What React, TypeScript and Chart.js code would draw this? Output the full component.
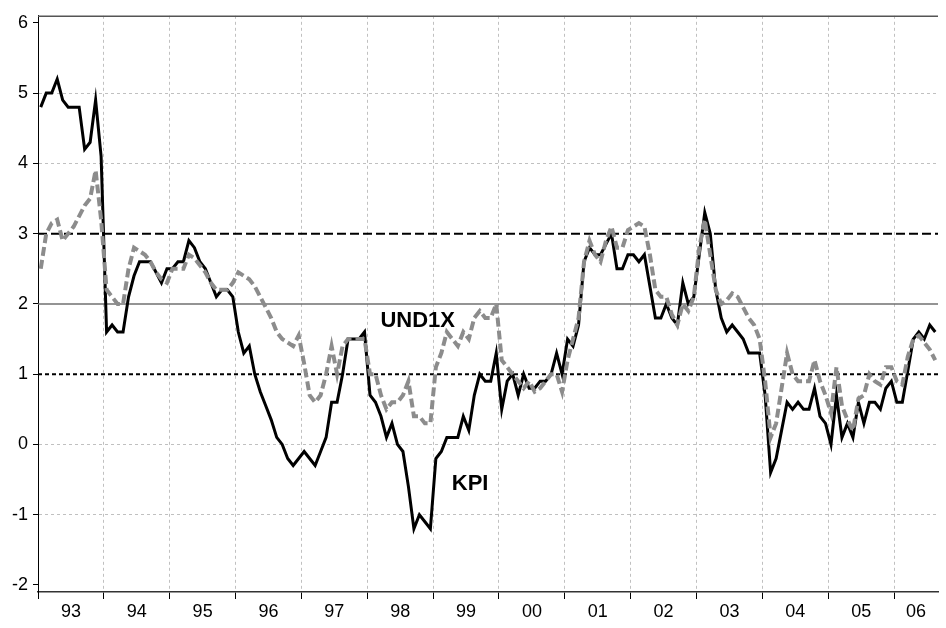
import React, { useEffect, useRef } from 'react';
import { Chart, registerables } from 'chart.js';

Chart.register(...registerables);

// ---- Data (monthly, Jan 1993 – Aug 2006) ----
const yearLabels = ['93', '94', '95', '96', '97', '98', '99', '00', '01', '02', '03', '04', '05', '06'];

const kpi = [
  // 1993
  4.8, 5.0, 5.0, 5.2, 4.9, 4.8, 4.8, 4.8, 4.2, 4.3, 4.9, 4.1,
  // 1994
  1.6, 1.7, 1.6, 1.6, 2.1, 2.4, 2.6, 2.6, 2.6, 2.45, 2.3, 2.5,
  // 1995
  2.5, 2.6, 2.6, 2.9, 2.8, 2.6, 2.5, 2.3, 2.1, 2.2, 2.2, 2.1,
  // 1996
  1.6, 1.3, 1.4, 1.0, 0.75, 0.55, 0.35, 0.1, 0.0, -0.2, -0.3, -0.2,
  // 1997
  -0.1, -0.2, -0.3, -0.1, 0.1, 0.6, 0.6, 1.0, 1.5, 1.5, 1.5, 1.6,
  // 1998
  0.7, 0.6, 0.4, 0.1, 0.3, 0.0, -0.1, -0.6, -1.2, -1.0, -1.1, -1.2,
  // 1999
  -0.2, -0.1, 0.1, 0.1, 0.1, 0.4, 0.2, 0.7, 1.0, 0.9, 0.9, 1.3,
  // 2000
  0.5, 0.9, 1.0, 0.7, 1.0, 0.8, 0.8, 0.9, 0.9, 1.0, 1.3, 1.0,
  // 2001
  1.5, 1.4, 1.7, 2.6, 2.8, 2.7, 2.7, 2.85, 3.0, 2.5, 2.5, 2.7,
  // 2002
  2.7, 2.6, 2.7, 2.25, 1.8, 1.8, 2.0, 1.8, 1.7, 2.3, 2.0, 2.1,
  // 2003
  2.7, 3.3, 3.0, 2.2, 1.8, 1.6, 1.7, 1.6, 1.5, 1.3, 1.3, 1.3,
  // 2004
  0.7, -0.4, -0.2, 0.2, 0.6, 0.5, 0.6, 0.5, 0.5, 0.8, 0.4, 0.3,
  // 2005
  0.0, 0.7, 0.1, 0.3, 0.1, 0.6, 0.3, 0.6, 0.6, 0.5, 0.8, 0.9,
  // 2006
  0.6, 0.6, 1.05, 1.5, 1.6, 1.5, 1.7, 1.6,
];

const und1x = [
  // 1993
  2.5, 3.0, 3.15, 3.2, 2.9, 3.0, 3.1, 3.25, 3.4, 3.5, 3.9, 3.2,
  // 1994
  2.2, 2.1, 2.0, 2.0, 2.5, 2.8, 2.75, 2.7, 2.6, 2.45, 2.35, 2.3,
  // 1995
  2.5, 2.5, 2.5, 2.7, 2.65, 2.55, 2.45, 2.3, 2.2, 2.2, 2.2, 2.3,
  // 1996
  2.45, 2.4, 2.35, 2.25, 2.1, 1.95, 1.8, 1.6, 1.5, 1.45, 1.4, 1.55,
  // 1997
  1.15, 0.7, 0.6, 0.7, 1.0, 1.4, 1.0, 1.4, 1.5, 1.5, 1.5, 1.5,
  // 1998
  1.0, 1.0, 0.7, 0.5, 0.6, 0.6, 0.7, 0.9, 0.4, 0.4, 0.3, 0.3,
  // 1999
  1.1, 1.3, 1.6, 1.5, 1.4, 1.6, 1.5, 1.8, 1.9, 1.8, 1.8, 2.0,
  // 2000
  1.2, 1.1, 1.0, 0.9, 0.8, 0.9, 0.75, 0.8, 0.9, 1.0, 1.0, 0.75,
  // 2001
  1.2, 1.5, 1.8, 2.6, 2.9, 2.7, 2.6, 2.9, 3.1, 2.8, 2.8, 3.05,
  // 2002
  3.1, 3.15, 3.1, 2.7, 2.2, 2.1, 2.1, 1.85, 1.7, 2.0, 1.9, 2.1,
  // 2003
  2.8, 3.2, 2.7, 2.2, 2.0, 2.05, 2.15, 2.1, 1.95, 1.8, 1.7, 1.5,
  // 2004
  0.9, 0.1, 0.3, 0.8, 1.3, 1.0, 0.9, 0.9, 0.9, 1.2, 0.9, 0.7,
  // 2005
  0.45, 1.1, 0.55, 0.35, 0.2, 0.65, 0.7, 1.0, 0.9, 0.85, 1.1, 1.1,
  // 2006
  0.9, 0.85, 1.25, 1.5, 1.55, 1.45, 1.35, 1.2,
];

const yTickValues = [-2, -1, 0, 1, 2, 3, 4, 5, 6];
const refUpper = 3;
const refTarget = 2;
const refLower = 1;

const FONT = '"Liberation Sans", Arial, Helvetica, sans-serif';

export default function App() {
  const canvasRef = useRef<HTMLCanvasElement | null>(null);

  useEffect(() => {
    const canvas = canvasRef.current;
    if (!canvas) return;

    const N = kpi.length;
    const xMin = -0.5;
    const xMax = N - 0.5;

    const boundaries = yearLabels.map((_, k) => 12 * k - 0.5);
    const labelPos: number[] = yearLabels.map((_, k) => {
      const start = 12 * k - 0.5;
      const end = Math.min(start + 12, xMax);
      return (start + end) / 2;
    });
    const labelMap = new Map<number, string>();
    labelPos.forEach((p, k) => labelMap.set(p, yearLabels[k]));
    const boundarySet = new Set<number>(boundaries);
    const xTickValues = [...boundaries, ...labelPos].sort((a, b) => a - b);

    const toPts = (arr: number[]) => arr.map((v, i) => ({ x: i, y: v }));
    const hLine = (v: number) => [
      { x: xMin, y: v },
      { x: xMax, y: v },
    ];

    const annotations = {
      id: 'annotations',
      afterDatasetsDraw(chart: any) {
        const { ctx, scales } = chart;
        ctx.save();
        ctx.fillStyle = '#000';
        ctx.font = `bold 22px ${FONT}`;
        ctx.textAlign = 'left';
        ctx.textBaseline = 'middle';
        ctx.fillText('UND1X', scales.x.getPixelForValue(61.9), scales.y.getPixelForValue(1.76));
        ctx.fillText('KPI', scales.x.getPixelForValue(74.9), scales.y.getPixelForValue(-0.56));
        ctx.restore();
      },
    };

    const frame = {
      id: 'frame',
      afterDraw(chart: any) {
        const { ctx, chartArea } = chart;
        ctx.save();
        ctx.strokeStyle = '#555';
        ctx.lineWidth = 1.5;
        ctx.beginPath();
        ctx.moveTo(chartArea.left, chartArea.top + 0.5);
        ctx.lineTo(chartArea.right, chartArea.top + 0.5);
        ctx.stroke();
        ctx.restore();
      },
    };

    const chart = new Chart(canvas, {
      type: 'line',
      data: {
        datasets: [
          {
            label: 'UND1X',
            data: toPts(und1x),
            borderColor: '#8c8c8c',
            borderWidth: 4,
            borderDash: [9, 4],
            pointRadius: 0,
            tension: 0,
            order: 1,
          },
          {
            label: 'KPI',
            data: toPts(kpi),
            borderColor: '#000000',
            borderWidth: 3,
            borderJoinStyle: 'miter',
            pointRadius: 0,
            tension: 0,
            order: 2,
          },
          {
            label: 'upper',
            data: hLine(refUpper),
            borderColor: '#000000',
            borderWidth: 2,
            borderDash: [9, 4],
            pointRadius: 0,
            order: 3,
          },
          {
            label: 'target',
            data: hLine(refTarget),
            borderColor: '#707070',
            borderWidth: 1.5,
            pointRadius: 0,
            order: 4,
          },
          {
            label: 'lower',
            data: hLine(refLower),
            borderColor: '#000000',
            borderWidth: 2,
            borderDash: [4, 3],
            pointRadius: 0,
            order: 5,
          },
        ],
      },
      options: {
        animation: false,
        responsive: false,
        layout: { padding: { left: 0, right: 8, top: 14, bottom: 0 } },
        plugins: {
          legend: { display: false },
          tooltip: { enabled: false },
        },
        scales: {
          x: {
            type: 'linear',
            min: xMin,
            max: xMax,
            afterBuildTicks: (s: any) => {
              s.ticks = xTickValues.map((v) => ({ value: v }));
            },
            afterFit: (s: any) => {
              s.height = 36;
            },
            ticks: {
              autoSkip: false,
              maxRotation: 0,
              minRotation: 0,
              padding: 2,
              color: '#000',
              font: { family: FONT, size: 18 },
              callback: (v: any) => labelMap.get(Number(v)) ?? '',
            },
            grid: {
              color: (c: any) => {
                const v = c.tick ? c.tick.value : NaN;
                return boundarySet.has(v) && v > xMin ? '#c0c0c0' : 'rgba(0,0,0,0)';
              },
              tickColor: (c: any) => {
                const v = c.tick ? c.tick.value : NaN;
                return boundarySet.has(v) ? '#000' : 'rgba(0,0,0,0)';
              },
              tickLength: 7,
              lineWidth: 1,
            },
            border: { display: true, color: '#333', width: 1.5, dash: [3, 3] },
          },
          y: {
            type: 'linear',
            min: -2.1,
            max: 6.1,
            afterBuildTicks: (s: any) => {
              s.ticks = yTickValues.map((v) => ({ value: v }));
            },
            afterFit: (s: any) => {
              s.width = 38;
            },
            ticks: {
              padding: 5,
              color: '#000',
              font: { family: FONT, size: 18 },
            },
            grid: {
              color: (c: any) => {
                const v = c.tick ? c.tick.value : NaN;
                return [-1, 0, 4, 5].includes(v) ? '#c0c0c0' : 'rgba(0,0,0,0)';
              },
              tickColor: '#000',
              tickLength: 5,
              lineWidth: 1,
            },
            border: { display: true, color: '#000', width: 1, dash: [3, 3] },
          },
        },
      } as any,
      plugins: [annotations, frame],
    });

    return () => {
      chart.destroy();
    };
  }, []);

  return (
    <div style={{ position: 'absolute', left: 0, top: 0, width: 946, height: 628, background: '#fff' }}>
      <canvas ref={canvasRef} width={946} height={628} />
    </div>
  );
}
